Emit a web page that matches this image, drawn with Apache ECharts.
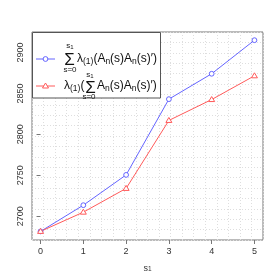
<!DOCTYPE html>
<html><head><meta charset="utf-8">
<script src="https://cdn.jsdelivr.net/npm/echarts@6/dist/echarts.min.js"></script>
<style>html,body{margin:0;padding:0;background:#fff}#c{width:280px;height:280px}</style>
</head><body><div id="c"></div>
<script>
var categories = [0, 1, 2, 3, 4, 5];
var sumOfEig = [2681.5, 2713.5, 2750.5, 2843, 2874, 2915];
var eigOfSum = [2681.5, 2705, 2734, 2817, 2842.5, 2871.5];
var xTicks = [0, 1, 2, 3, 4, 5];
var yTicks = [2700, 2750, 2800, 2850, 2900];

var BLUE = '#6464ff', RED = '#ff5a5a';
var FONT = '"Liberation Sans", Arial, sans-serif';
var chart = echarts.init(document.getElementById('c'), null, {renderer: 'canvas'});

var subRich = {
  s: {fontSize: 8.5, fontFamily: FONT, verticalAlign: 'bottom', fill: '#111'},
  m: {fontSize: 12, fontFamily: FONT, fill: '#111', lineHeight: 15}
};
function txt(x, y, text, size, align, rich) {
  return {type: 'text', x: x, y: y, z: 100,
    style: {text: text, fontFamily: FONT, fontSize: size, fill: '#111',
      align: align || 'left', verticalAlign: 'middle', rich: rich}};
}
var gridAxis = {
  type: 'value', min: 0, max: 20, interval: 1,
  axisLine: {show: false}, axisTick: {show: false}, axisLabel: {show: false},
  splitLine: {show: true, lineStyle: {color: '#dedede', type: [1, 2], width: 1}}
};
function pairs(vals) { return categories.map(function (c, i) { return [c, vals[i]]; }); }
function markerSeries(vals, color, kind) {
  return {
    type: 'custom', xAxisIndex: 0, yAxisIndex: 0, z: 6,
    data: pairs(vals),
    renderItem: function (params, api) {
      var p = api.coord([api.value(0), api.value(1)]);
      var style = {fill: '#fff', stroke: color, lineWidth: 1};
      if (kind === 'circle') {
        return {type: 'circle', shape: {cx: p[0], cy: p[1], r: 2.4}, style: style};
      }
      return {type: 'polygon', shape: {points: [[p[0], p[1] - 3], [p[0] + 3, p[1] + 2], [p[0] - 3, p[1] + 2]]}, style: style};
    }
  };
}

chart.setOption({
  animation: false,
  grid: {left: 32, right: 17, top: 32, bottom: 40, show: true, borderColor: '#777', borderWidth: 1, backgroundColor: 'transparent'},
  xAxis: [{
    type: 'value', min: -0.2, max: 5.2,
    name: 's{sub|1}', nameLocation: 'middle', nameGap: 24,
    nameTextStyle: {fontFamily: FONT, fontSize: 9, color: '#333', rich: {sub: {fontSize: 6.5, verticalAlign: 'bottom', fontFamily: FONT, color: '#333'}}},
    axisLine: {show: false},
    axisTick: {show: true, length: 4, lineStyle: {color: '#777'}, customValues: xTicks},
    axisLabel: {fontFamily: FONT, fontSize: 9, color: '#333', margin: 7, customValues: xTicks},
    splitLine: {show: false}
  }, gridAxis],
  yAxis: [{
    type: 'value', min: 2671, max: 2925,
    axisLine: {show: false},
    axisTick: {show: true, length: 4, lineStyle: {color: '#777'}, customValues: yTicks},
    axisLabel: {fontFamily: FONT, fontSize: 9, color: '#333', margin: 7, rotate: 90, customValues: yTicks,
      formatter: function (v) { return String(v); }},
    splitLine: {show: false}
  }, gridAxis],
  series: [{
    type: 'line', xAxisIndex: 0, yAxisIndex: 0, z: 5,
    data: pairs(sumOfEig), showSymbol: false,
    lineStyle: {color: BLUE, width: 1}
  }, {
    type: 'line', xAxisIndex: 0, yAxisIndex: 0, z: 5,
    data: pairs(eigOfSum), showSymbol: false,
    lineStyle: {color: RED, width: 1}
  },
  markerSeries(sumOfEig, BLUE, 'circle'),
  markerSeries(eigOfSum, RED, 'triangle')],
  graphic: [
    {type: 'rect', z: 90, shape: {x: 32.5, y: 32.5, width: 128, height: 65.5},
      style: {fill: '#fff', stroke: '#555', lineWidth: 1}},
    {type: 'line', z: 100, shape: {x1: 36, y1: 59, x2: 55, y2: 59}, style: {stroke: BLUE, lineWidth: 1}},
    {type: 'circle', z: 100, shape: {cx: 45.5, cy: 59, r: 2.4}, style: {fill: '#fff', stroke: BLUE, lineWidth: 1}},
    {type: 'line', z: 100, shape: {x1: 36, y1: 86, x2: 55, y2: 86}, style: {stroke: RED, lineWidth: 1}},
    {type: 'polygon', z: 100, shape: {points: [[45.5, 83], [48.5, 88], [42.5, 88]]}, style: {fill: '#fff', stroke: RED, lineWidth: 1}},
    // row 1
    txt(69.5, 60, 'Σ', 17, 'center'),
    txt(70, 46, 's{s|1}', 8, 'center', {s: {fontSize: 6, verticalAlign: 'bottom', fontFamily: FONT, fill: '#111'}}),
    txt(70, 70, 's=0', 8, 'center'),
    txt(77, 59, '{m|λ}{s|(1)}{m|(A}{s|n}{m|(s)A}{s|n}{m|(s)′)}', 12, 'left', subRich),
    // row 2
    txt(64, 86, '{m|λ}{s|(1)}{m|(}', 12, 'left', subRich),
    txt(90.5, 88, 'Σ', 17, 'center'),
    txt(90, 75, 's{s|1}', 8, 'center', {s: {fontSize: 6, verticalAlign: 'bottom', fontFamily: FONT, fill: '#111'}}),
    txt(89, 97, 's=0', 8, 'center'),
    txt(97, 86, '{m|A}{s|n}{m|(s)A}{s|n}{m|(s)′)}', 12, 'left', subRich)
  ]
});
</script></body></html>
